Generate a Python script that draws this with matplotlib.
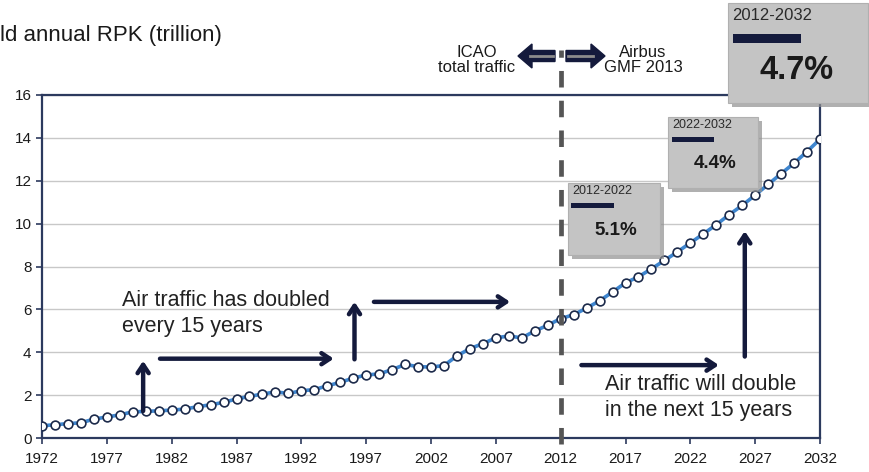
import numpy as np
import matplotlib
matplotlib.use("Agg")
import matplotlib.pyplot as plt
from matplotlib.patches import Rectangle, Polygon

plt.rcParams['font.family'] = ['Liberation Sans', 'DejaVu Sans']

# World annual RPK (trillion), ICAO history 1972-2012 + Airbus GMF 2013 forecast
years = list(range(1972, 2033))
rpk = [0.57, 0.62, 0.67, 0.71, 0.88, 0.98, 1.08, 1.22, 1.24, 1.27,
       1.30, 1.35, 1.46, 1.55, 1.66, 1.82, 1.94, 2.05, 2.15, 2.08,
       2.20, 2.26, 2.43, 2.60, 2.79, 2.94, 2.99, 3.19, 3.43, 3.33,
       3.31, 3.38, 3.83, 4.17, 4.40, 4.67, 4.76, 4.67, 4.99, 5.26,
       5.57, 5.75, 6.06, 6.40, 6.81, 7.24, 7.52, 7.89, 8.28, 8.68,
       9.10, 9.52, 9.95, 10.42, 10.85, 11.33, 11.83, 12.33, 12.82, 13.36,
       13.94]
x_ticks = list(range(1972, 2033, 5))
y_ticks = list(range(0, 17, 2))

box_periods = ['2012-2022', '2022-2032', '2012-2032']
box_rates = ['5.1%', '4.4%', '4.7%']

W, H = 870, 472
navy = '#141a3c'
spine_col = '#2c3a5e'

fig = plt.figure(figsize=(W / 100, H / 100), dpi=100)
ax = fig.add_axes([42 / W, 1 - 438 / H, 778 / W, 343 / H])


def px(x, y):
    # pixel (from top-left) -> figure fraction
    return x / W, 1 - y / H


ax.set_xlim(1972, 2032)
ax.set_ylim(0, 16)
ax.set_xticks(x_ticks)
ax.set_yticks(y_ticks)
ax.yaxis.grid(True, color='#c8c8c8', lw=1)
ax.set_axisbelow(True)
for s in ax.spines.values():
    s.set_color(spine_col)
    s.set_linewidth(1.6)
ax.tick_params(axis='both', colors=spine_col, length=4, width=1.2,
               labelsize=11, labelcolor='#1a1a1a')
ax.tick_params(axis='x', pad=6)

ax.plot(years, rpk, color='#3f86cf', lw=2.6, marker='o', ms=6.3,
        mfc='white', mec='#1c2a4a', mew=1.2, zorder=4)

# 2012 split line
ax.plot([2012, 2012], [-0.3, 18.1], color='#555555', lw=3.4,
        dashes=(3.5, 2.8), clip_on=False, zorder=5)

# arrows
def arrow(x0, y0, x1, y1):
    ax.annotate('', xy=(x1, y1), xytext=(x0, y0),
                arrowprops=dict(arrowstyle='->,head_length=0.6,head_width=0.4',
                                color=navy, lw=3.2, shrinkA=0, shrinkB=0),
                zorder=6)

arrow(1979.8, 1.26, 1979.8, 3.6)
arrow(1981.1, 3.7, 1994.5, 3.7)
arrow(1996.1, 3.67, 1996.1, 6.35)
arrow(1997.6, 6.35, 2008.1, 6.35)
arrow(2013.6, 3.4, 2024.2, 3.4)
arrow(2026.2, 3.8, 2026.2, 9.65)

ax.text(1978.2, 5.8, 'Air traffic has doubled\nevery 15 years', fontsize=15.5,
        color='#222222', va='center', ha='left', linespacing=1.3)
ax.text(2015.4, 1.9, 'Air traffic will double\nin the next 15 years', fontsize=15.5,
        color='#222222', va='center', ha='left', linespacing=1.3)

# title (cropped on the left in the original)
fig.text(*px(0, 35), 'ld annual RPK (trillion)', fontsize=16, color='#1a1a1a',
         ha='left', va='center')

# block arrows near the top
def block_arrow(tail, tip, yc):
    d = 1 if tip > tail else -1
    hb = tip - d * 14
    pts = [(tail, yc - 5.5), (hb, yc - 5.5), (hb, yc - 12), (tip, yc),
           (hb, yc + 12), (hb, yc + 5.5), (tail, yc + 5.5)]
    fig.add_artist(Polygon([px(*p) for p in pts], closed=True,
                           transform=fig.transFigure, fc=navy, ec=navy, lw=1))
    fig.add_artist(plt.Line2D([px(tail + d * 2, yc)[0], px(hb + d * 2, yc)[0]],
                              [px(0, yc)[1]] * 2, transform=fig.transFigure,
                              color='#8c8c8c', lw=2))

block_arrow(555, 518, 56)
block_arrow(566, 605, 56)
fig.text(*px(477, 60), 'ICAO\ntotal traffic', fontsize=12, color='#1a1a1a',
         ha='center', va='center', linespacing=1.05)
fig.text(*px(643, 60), 'Airbus\nGMF 2013', fontsize=12, color='#1a1a1a',
         ha='center', va='center', linespacing=1.05)

# growth rate boxes: (left, top, right, bottom) in pixels
boxes = [(568, 183, 660, 255), (668, 117, 758, 188), (728, 3, 868, 103)]
label_fs = [9, 9, 12]
rate_fs = [13.5, 13.5, 23.5]
bars = [(571, 614, 5), (672, 714, 5), (733, 801, 9)]
for i, (l, t, r, b) in enumerate(boxes):
    sh = 4
    fig.add_artist(Rectangle(px(l + sh, b + sh), (r - l) / W, (b - t) / H,
                             transform=fig.transFigure, fc='#8f8f8f', ec='none',
                             alpha=0.7, zorder=7))
    fig.add_artist(Rectangle(px(l, b), (r - l) / W, (b - t) / H,
                             transform=fig.transFigure, fc='#c4c4c4', ec='#b0b0b0',
                             lw=0.8, zorder=8))
    big = i == 2
    ty = t + (13 if big else 8)
    fig.text(*px(l + 4, ty), box_periods[i], fontsize=label_fs[i], color='#2a2a2a',
             ha='left', va='center', zorder=9)
    bx0, bx1, bh = bars[i]
    by = t + (35 if big else 22)
    fig.add_artist(Rectangle(px(bx0, by + bh / 2), (bx1 - bx0) / W, bh / H,
                             transform=fig.transFigure, fc=navy, ec='none', zorder=9))
    ry = t + (68 if big else 47)
    rx = (797 if big else (l + r) / 2 + 2)
    fig.text(*px(rx, ry), box_rates[i], fontsize=rate_fs[i], fontweight='bold',
             color='#1a1a1a', ha='center', va='center', zorder=9)

fig.savefig('out.png', dpi=100)
